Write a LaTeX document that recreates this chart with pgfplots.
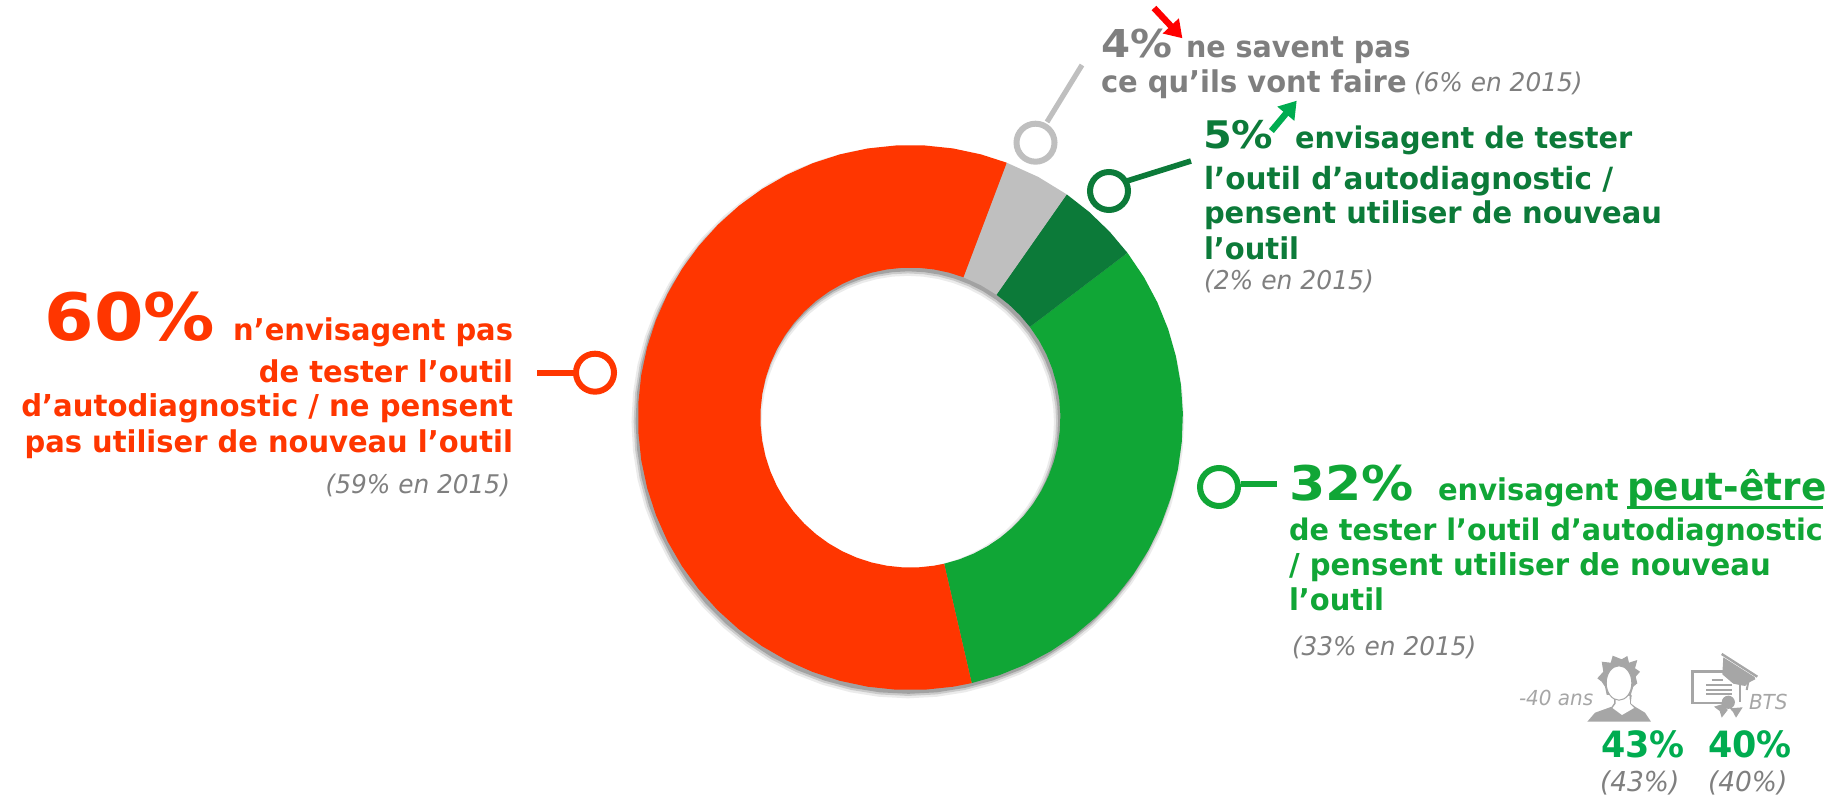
\documentclass[border=0pt]{standalone}
\usepackage{fontspec}
\usepackage{pgfplots}
\usepackage{pgfplotstable}
\pgfplotsset{compat=1.18}
\usepgfplotslibrary{polar}
\usetikzlibrary{arrows.meta}
\setmainfont[FakeStretch=0.965]{DejaVu Sans}
\newfontfamily\lh[FakeStretch=1.09]{DejaVu Sans}
\newcommand{\fs}[1]{\fontsize{#1}{#1}\selectfont}
\definecolor{cred}{HTML}{FF3600}
\definecolor{cgreen}{HTML}{10A636}
\definecolor{cdark}{HTML}{0C7A39}
\definecolor{clgray}{HTML}{BFBFBF}
\definecolor{ctext}{HTML}{7F7F7F}
\definecolor{cicon}{HTML}{A6A6A6}
\definecolor{cpct}{HTML}{00AC50}
\tikzset{tx/.style={inner sep=0pt, outer sep=0pt}}

% centre line of the ring, for the soft shadow
\pgfplotstableread[row sep=\\]{
a r\\ 0 211.25\\ 6 211.25\\ 12 211.25\\ 18 211.25\\ 24 211.25\\ 30 211.25\\ 36 211.25\\ 42 211.25\\ 48 211.25\\ 54 211.25\\
60 211.25\\ 66 211.25\\ 72 211.25\\ 78 211.25\\ 84 211.25\\ 90 211.25\\ 96 211.25\\ 102 211.25\\ 108 211.25\\ 114 211.25\\
120 211.25\\ 126 211.25\\ 132 211.25\\ 138 211.25\\ 144 211.25\\ 150 211.25\\ 156 211.25\\ 162 211.25\\ 168 211.25\\ 174 211.25\\
180 211.25\\ 186 211.25\\ 192 211.25\\ 198 211.25\\ 204 211.25\\ 210 211.25\\ 216 211.25\\ 222 211.25\\ 228 211.25\\ 234 211.25\\
240 211.25\\ 246 211.25\\ 252 211.25\\ 258 211.25\\ 264 211.25\\ 270 211.25\\ 276 211.25\\ 282 211.25\\ 288 211.25\\ 294 211.25\\
300 211.25\\ 306 211.25\\ 312 211.25\\ 318 211.25\\ 324 211.25\\ 330 211.25\\ 336 211.25\\ 342 211.25\\ 348 211.25\\ 354 211.25\\
}\ringtable

\begin{document}
\begin{tikzpicture}
\path[use as bounding box] (0,0) rectangle (918.5pt,397.5pt);

% ring: 1 data unit = 1 px = 0.5pt
\begin{axis}[
  at={(455.2pt,188.7pt)}, anchor=center,
  hide axis,
  data cs=polar,
  scale only axis, width=272.5pt, height=272.5pt,
  xmin=-272.5, xmax=272.5, ymin=-272.5, ymax=272.5,
  clip=false,
]
\addplot[no marks, draw=black, opacity=.08, line width=65pt, shift={(-1.3pt,-2.2pt)}] table[x=a,y=r] {\ringtable} -- cycle;
\addplot[no marks, draw=black, opacity=.14, line width=63pt, shift={(-1.2pt,-2pt)}] table[x=a,y=r] {\ringtable} -- cycle;
\addplot[no marks, draw=black, opacity=.2, line width=61.5pt, shift={(-1pt,-1.7pt)}] table[x=a,y=r] {\ringtable} -- cycle;
% green 32%
\addplot[no marks, fill=cgreen, draw=none] coordinates {
 (283,272.5) (289,272.5) (295,272.5) (301,272.5) (307,272.5) (313,272.5) (319,272.5) (325,272.5) (331,272.5) (337,272.5)
 (343,272.5) (349,272.5) (355,272.5) (361,272.5) (367,272.5) (373,272.5) (379,272.5) (385,272.5) (391,272.5) (397.2,272.5)
 (397.2,150) (391,150) (385,150) (379,150) (373,150) (367,150) (361,150) (355,150) (349,150) (343,150)
 (337,150) (331,150) (325,150) (319,150) (313,150) (307,150) (301,150) (295,150) (289,150) (283,150)
};
% dark green 5%
\addplot[no marks, fill=cdark, draw=none] coordinates {
 (37.2,272.5) (43,272.5) (49,272.5) (55,272.5) (55,150) (49,150) (43,150) (37.2,150)
};
% grey 4%
\addplot[no marks, fill=clgray, draw=none] coordinates {
 (55,272.5) (62,272.5) (69.3,272.5) (69.3,150) (62,150) (55,150)
};
% red 60%
\addplot[no marks, fill=cred, draw=none] coordinates {
 (69.3,272.5) (75,272.5) (81,272.5) (87,272.5) (93,272.5) (99,272.5) (105,272.5) (111,272.5) (117,272.5) (123,272.5)
 (129,272.5) (135,272.5) (141,272.5) (147,272.5) (153,272.5) (159,272.5) (165,272.5) (171,272.5) (177,272.5) (183,272.5)
 (189,272.5) (195,272.5) (201,272.5) (207,272.5) (213,272.5) (219,272.5) (225,272.5) (231,272.5) (237,272.5) (243,272.5)
 (249,272.5) (255,272.5) (261,272.5) (267,272.5) (273,272.5) (279,272.5) (283,272.5)
 (283,150) (279,150) (273,150) (267,150) (261,150) (255,150) (249,150) (243,150) (237,150) (231,150)
 (225,150) (219,150) (213,150) (207,150) (201,150) (195,150) (189,150) (183,150) (177,150) (171,150)
 (165,150) (159,150) (153,150) (147,150) (141,150) (135,150) (129,150) (123,150) (117,150) (111,150)
 (105,150) (99,150) (93,150) (87,150) (81,150) (75,150) (69.3,150)
};
\end{axis}

% labels, in reference pixels
\begin{axis}[
  at={(0,0)}, anchor=south west,
  hide axis,
  scale only axis, width=918.5pt, height=397.5pt,
  xmin=0, xmax=1837, ymin=0, ymax=795, y dir=reverse,
  clip=false,
]
% callout sticks
\addplot[no marks, draw=clgray, line width=2.6pt] coordinates {(1047,122) (1082,65)};
\addplot[no marks, draw=cdark, line width=2.8pt] coordinates {(1127,181) (1191,161)};
\addplot[no marks, draw=cred, line width=3pt] coordinates {(537,373) (575,373)};
\addplot[no marks, draw=cgreen, line width=3pt] coordinates {(1241,484) (1277,484)};
% callout rings
\addplot[only marks, mark=*, mark size=9.5pt, mark options={fill=white, draw=clgray, line width=3pt}] coordinates {(1035.5,142.7)};
\addplot[only marks, mark=*, mark size=9.5pt, mark options={fill=white, draw=cdark, line width=3pt}] coordinates {(1109,191)};
\addplot[only marks, mark=*, mark size=9.5pt, mark options={fill=white, draw=cred, line width=3pt}] coordinates {(595,372.7)};
\addplot[only marks, mark=*, mark size=9.5pt, mark options={fill=white, draw=cgreen, line width=3pt}] coordinates {(1219,487)};
% trend arrows
\addplot[no marks, draw=red, line width=3.2pt, -{Triangle[length=8.5pt,width=10.5pt]}] coordinates {(1154,8) (1182.4,38.3)};
\addplot[no marks, draw=cpct, line width=3.2pt, -{Triangle[length=8.5pt,width=10.5pt]}] coordinates {(1271.4,131) (1296.7,100.7)};

% 60%
\node[tx, anchor=base east, text=cred] at (513,341) {\bfseries\lh\fs{32.7}60\%\hspace{9pt}\normalfont\bfseries\fs{15}n’envisagent pas};
\node[tx, anchor=base east, text=cred] at (513,382.7) {\bfseries\fs{15}de tester l’outil};
\node[tx, anchor=base east, text=cred] at (513,416.7) {\bfseries\fs{15.1}d’autodiagnostic / ne pensent};
\node[tx, anchor=base east, text=cred] at (513,452.7) {\bfseries\fs{15}pas utiliser de nouveau l’outil};
\node[tx, anchor=base east, text=ctext] at (510,494) {\itshape\fs{12.85}(59\% en 2015)};
% 4%
\node[tx, anchor=base west, text=ctext] at (1101,57.3) {\bfseries\lh\fs{19.2}4\%};
\node[tx, anchor=base west, text=ctext] at (1186,57.3) {\bfseries\fs{14.8}ne savent pas};
\node[tx, anchor=base west, text=ctext] at (1101,92.7) {\bfseries\fs{15}ce qu’ils vont faire};
\node[tx, anchor=base west, text=ctext] at (1414,91.7) {\itshape\fs{12.85}(6\% en 2015)};
% 5%
\node[tx, anchor=base west, text=cdark] at (1203,148.3) {\bfseries\lh\fs{19}5\%};
\node[tx, anchor=base west, text=cdark] at (1295,148.3) {\bfseries\fs{14.9}envisagent de tester};
\node[tx, anchor=base west, text=cdark] at (1204,189.3) {\bfseries\fs{15.3}l’outil d’autodiagnostic /};
\node[tx, anchor=base west, text=cdark] at (1204,224) {\bfseries\fs{15}pensent utiliser de nouveau};
\node[tx, anchor=base west, text=cdark] at (1204,259.3) {\bfseries\fs{15}l’outil};
\node[tx, anchor=base west, text=ctext] at (1204,289.3) {\itshape\fs{12.95}(2\% en 2015)};
% 32%
\node[tx, anchor=base west, text=cgreen] at (1289,500.7) {\bfseries\lh\fs{23.9}32\%};
\node[tx, anchor=base west, text=cgreen] at (1438,500.7) {\bfseries\fs{15}envisagent};
\node[tx, anchor=base west, text=cgreen] at (1627,500.7) {\bfseries\fs{19.4}peut-être};
\draw[cgreen, line width=1.3pt] (1627,507.5) -- (1823,507.5);
\node[tx, anchor=base west, text=cgreen] at (1289,541) {\bfseries\fs{14.85}de tester l’outil d’autodiagnostic};
\node[tx, anchor=base west, text=cgreen] at (1289,576) {\bfseries\fs{15.1}/ pensent utiliser de nouveau};
\node[tx, anchor=base west, text=cgreen] at (1289,611) {\bfseries\fs{15}l’outil};
\node[tx, anchor=base west, text=ctext] at (1292,656) {\itshape\fs{12.85}(33\% en 2015)};
% sub-groups
\node[tx, anchor=base west, text=cicon] at (1519,706) {\itshape\fs{10.35}-40 ans};
\node[tx, anchor=base west, text=cicon] at (1749,710) {\itshape\fs{10.35}BTS};
\node[tx, anchor=base west, text=cpct] at (1601,758) {\bfseries\fs{18.1}43\%};
\node[tx, anchor=base west, text=cpct] at (1708,758) {\bfseries\fs{18.1}40\%};
\node[tx, anchor=base west, text=ctext] at (1600,792) {\itshape\fs{13.7}(43\%)};
\node[tx, anchor=base west, text=ctext] at (1708,792) {\itshape\fs{13.7}(40\%)};

% person icon
\fill[cicon] (1597.3,678.3) -- (1603.3,671.7) -- (1601.7,661.7) -- (1610.7,662.7) -- (1612.7,655.7) -- (1621.7,659.3) -- (1627.3,656) -- (1629,662.7) -- (1637.3,660) -- (1635,668.3) -- (1640,671.7) -- (1635.7,676.7) -- (1637.3,683.3) -- (1633.3,686.7) -- (1630.7,695) -- (1606.7,695) -- (1605,686.7) -- (1601.7,681.7) -- cycle;
\fill[cicon] (1587.3,721.7) -- (1595,712.7) -- (1611.7,706.7) -- (1614,703.3) -- (1614,695) -- (1631.7,695) -- (1630.7,703.3) -- (1635,706.7) -- (1645,712.7) -- (1651,721.7) -- cycle;
\fill[white] (1615.5,696) -- (1615.5,704) -- (1612.5,708) -- (1622,715) -- (1634,708) -- (1630,704) -- (1629.5,696) -- cycle;
\filldraw[fill=white, draw=cicon, line width=.5pt] (1619,683) ellipse [x radius=6.4pt, y radius=8.6pt];
% diploma icon
\draw[cicon, line width=1.2pt] (1730,671.7) -- (1692.3,671.7) -- (1692.3,703) -- (1722,703);
\draw[cicon, line width=1.2pt] (1740,685) -- (1740,702);
\draw[cicon, line width=.9pt] (1711.7,680) -- (1723.3,680) (1706,685) -- (1731.7,685) (1706,690) -- (1731.7,690) (1706,694.3) -- (1731.7,694.3);
\fill[cicon] (1728.3,702.3) circle [radius=3.3pt];
\fill[cicon] (1714,706.7) -- (1722.7,704) -- (1727.7,710) -- (1721.7,717.7) -- (1719.7,711) -- cycle;
\fill[cicon] (1729.7,708.3) -- (1742.7,707.3) -- (1736,717.7) -- (1733,712) -- cycle;
\draw[cicon, line width=1.2pt] (1721.7,654) -- (1757.3,676.7);
\fill[cicon] (1723.3,657.3) -- (1755,677.3) -- (1745,686) -- (1733.3,683.7) -- (1722.3,674.3) -- cycle;
\draw[cicon, line width=1pt] (1755,678.3) -- (1748.3,681.7) -- (1746.7,690);
\end{axis}
\end{tikzpicture}
\end{document}
